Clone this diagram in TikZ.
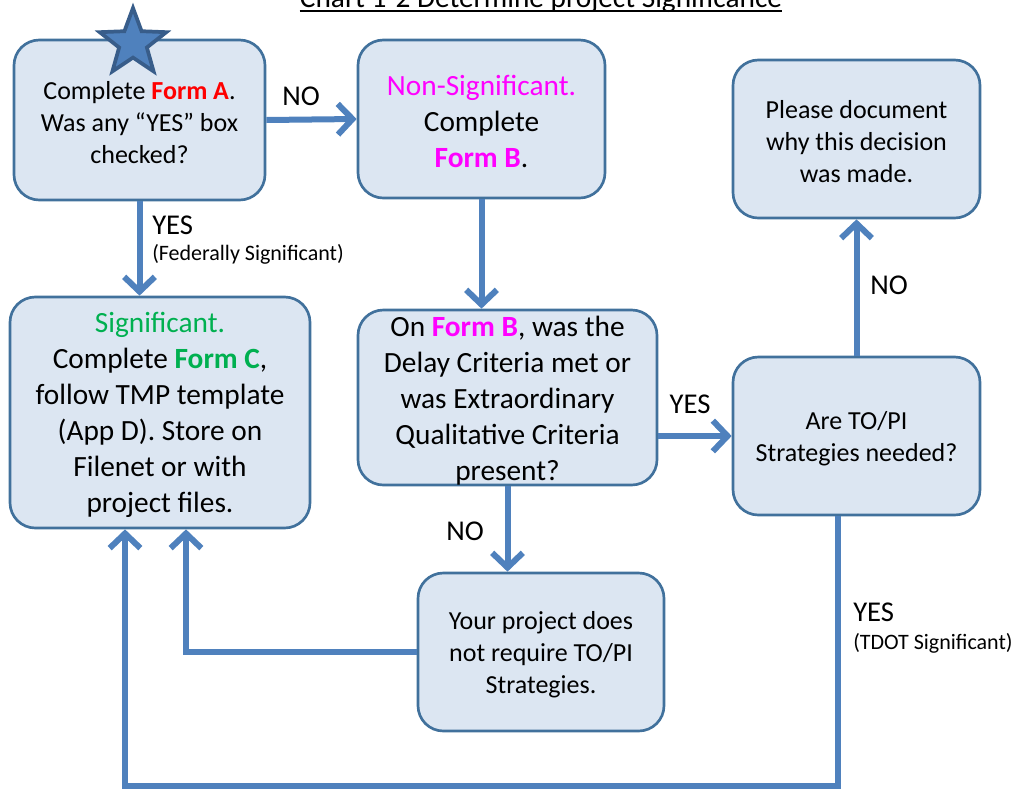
\documentclass[tikz,border=0pt]{standalone}
\usepackage{fontspec}
\setmainfont{Carlito}
\usetikzlibrary{arrows.meta,shapes.geometric,calc}
\definecolor{boxfill}{HTML}{DCE6F2}
\definecolor{boxline}{HTML}{41719C}
\definecolor{arrowblue}{HTML}{4F81BD}
\definecolor{starline}{HTML}{385D8A}
\definecolor{formred}{HTML}{FF0000}
\definecolor{formmag}{HTML}{FF00FF}
\definecolor{formgreen}{HTML}{00B050}
\newcommand{\firstup}{\rule{0pt}{0.88em}}
\begin{document}
\begin{tikzpicture}[x=0.75pt,y=-0.75pt,
  flowbox/.style={draw=boxline, fill=boxfill, line width=2pt, rounded corners=19pt, align=center, inner sep=0pt},
  smalltext/.style={font=\fontsize{19.5}{24}\selectfont},
  bigtext/.style={font=\fontsize{22}{27}\selectfont},
  flow/.style={draw=arrowblue, line width=4.5pt, -{Straight Barb[length=11pt,width=23pt]}},
  lbl/.style={font=\fontsize{21.5}{26}\selectfont, inner sep=0pt},
  sublbl/.style={font=\fontsize{16.5}{20}\selectfont, inner sep=0pt}]
\useasboundingbox (0,0) rectangle (1024,789);

\node[font=\fontsize{22}{26}\selectfont, anchor=base, inner sep=0pt] (title) at (541,7) {Chart 1-2 Determine project Significance};
\draw[line width=1.2pt] ($(title.base west)+(0,4)$) -- ($(title.base east)+(0,4)$);

\node[flowbox,smalltext,minimum width=0.75*251pt,minimum height=0.75*160pt] (A) at (139.5,120) {\firstup Complete \textcolor{formred}{\textbf{Form A}}.\\Was any “YES” box\\checked?};
\node[flowbox,bigtext,minimum width=0.75*247pt,minimum height=0.75*158pt] (B) at (481.5,119) {\firstup\textcolor{formmag}{Non-Significant.}\\Complete\\\textcolor{formmag}{\textbf{Form B}}.};
\node[flowbox,smalltext,minimum width=0.75*247pt,minimum height=0.75*158pt] (Doc) at (856.5,139) {\firstup Please document\\why this decision\\was made.};
\node[flowbox,bigtext,minimum width=0.75*300pt,minimum height=0.75*231pt] (C) at (160,412.5) {\firstup\textcolor{formgreen}{Significant.}\\Complete \textcolor{formgreen}{\textbf{Form C}},\\follow TMP template\\(App D). Store on\\Filenet or with\\project files.};
\node[flowbox,bigtext,minimum width=0.75*299pt,minimum height=0.75*175pt] (D) at (507.5,397.5) {\firstup On \textcolor{formmag}{\textbf{Form B}}, was the\\Delay Criteria met or\\was Extraordinary\\Qualitative Criteria\\present?};
\node[flowbox,smalltext,minimum width=0.75*247pt,minimum height=0.75*158pt] (E) at (856.5,436) {\firstup Are TO/PI\\Strategies needed?};
\node[flowbox,smalltext,minimum width=0.75*246pt,minimum height=0.75*158pt] (F) at (541,652) {\firstup Your project does\\not require TO/PI\\Strategies.};

\node[star, star points=5, star point ratio=2.4, minimum size=0.75*70pt, fill=arrowblue, draw=starline, line width=2.8pt, inner sep=0pt] (star) at (133,43) {};

\draw[flow] (A.east) -- (B.west);
\draw[flow] (A.south) -- (A.south |- C.north);
\draw[flow] (B.south) -- (B.south |- D.north);
\draw[flow] (D.east |- E.west) -- (E.west);
\draw[flow] (E.north) -- (Doc.south);
\draw[flow] (D.south) -- (D.south |- F.north);
\coordinate (fc) at ($(C.south)+(26,0)$);
\draw[flow] (F.west) -| (fc);
\coordinate (eout) at ($(E.south)+(-18.5,0)$);
\coordinate (ebot) at ($(eout)+(0,270)$);
\coordinate (cin) at ($(C.south)+(-35,0)$);
\draw[flow] (eout) -- (ebot) -| (cin);

\node[lbl] (noAB) at (301,96) {NO};
\node[lbl,anchor=west] (yesAC) at (152,225) {YES};
\node[sublbl,anchor=west] (fedsig) at (152,254) {(Federally Significant)};
\node[lbl] (yesDE) at (690,404) {YES};
\node[lbl] (noED) at (889,285) {NO};
\node[lbl] (noDF) at (465,531) {NO};
\node[lbl,anchor=west] (yesE) at (853,612) {YES};
\node[sublbl,anchor=west] (tdot) at (853,643) {(TDOT Significant)};
\end{tikzpicture}
\end{document}
